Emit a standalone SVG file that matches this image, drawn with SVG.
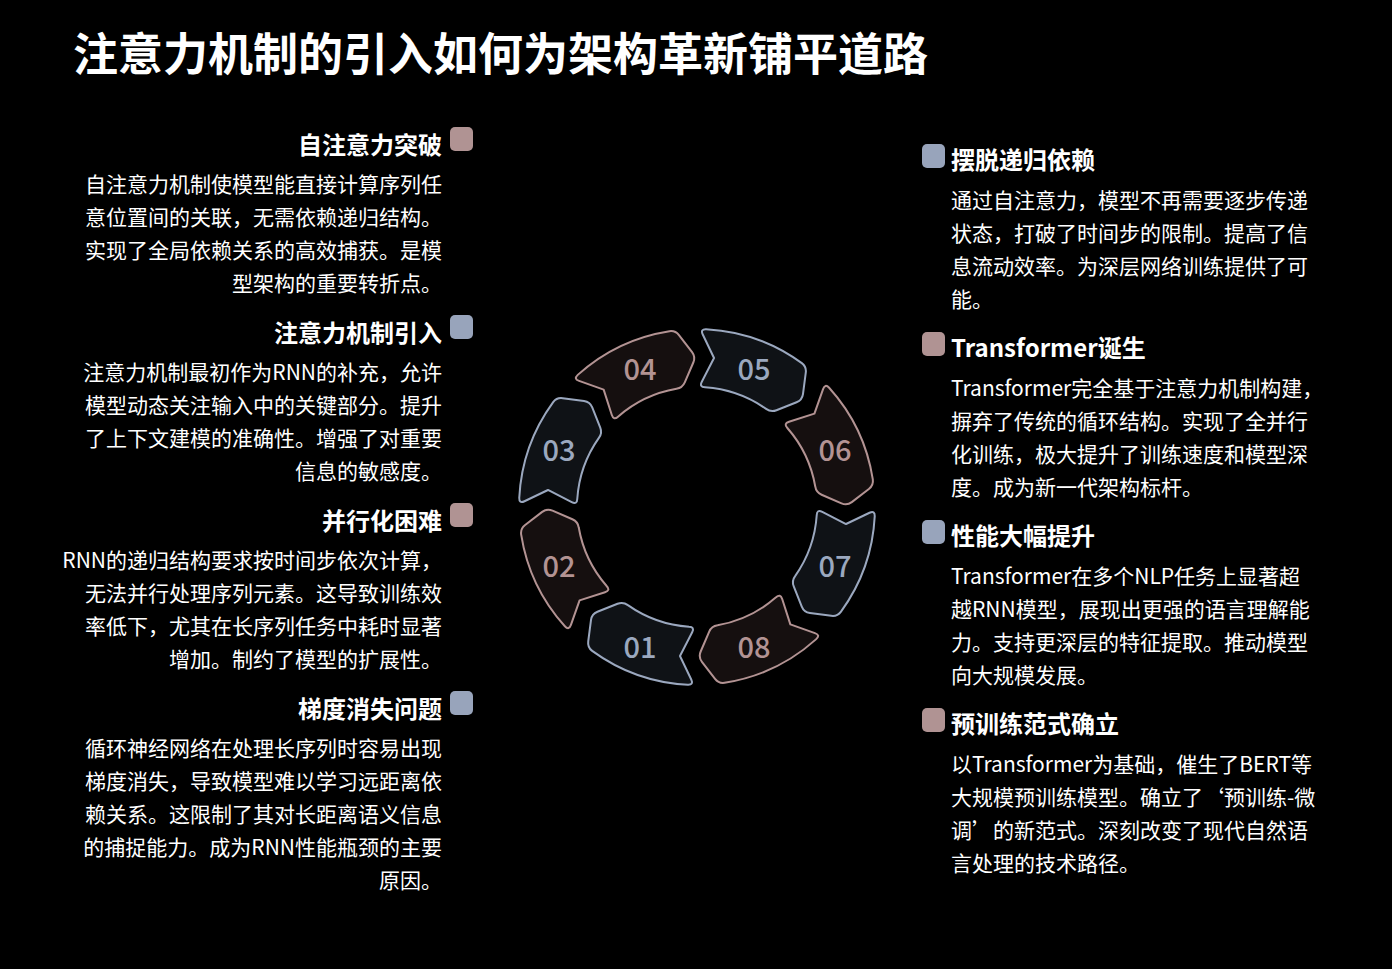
<svg xmlns="http://www.w3.org/2000/svg" xmlns:xlink="http://www.w3.org/1999/xlink" width="1392" height="969" viewBox="0 0 1392 969">
<style>
text{font-family:"Noto Sans CJK SC","Noto Sans",sans-serif;fill:#ffffff}
.title{font-size:45px;font-weight:700}
.h{font-size:24px;font-weight:700}
.b{font-size:21px}
.l{text-anchor:end}
.num{font-size:29px;font-weight:500;text-anchor:middle}
.segB{fill:#0f1216;stroke:#9ba8bf;stroke-width:2;stroke-linejoin:round}
.segP{fill:#150f0f;stroke:#b39393;stroke-width:2;stroke-linejoin:round}
.nB{fill:#9ba8bf}
.nP{fill:#b39393}
.sqB{fill:#98a4bb}
.sqP{fill:#b09393}
</style>
<defs>
<path id="seg" d="M 161.6,-60.7 Q 165.6,-65.2 167.7,-59.6 A 178 178 0 0 1 173.0,41.8 Q 171.5,47.6 165.7,49.1 L 144.9,54.7 Q 139.1,56.2 134.9,51.9 L 119.8,36.4 Q 115.6,32.1 117.1,26.3 A 120 120 0 0 0 113.7,-38.4 Q 111.6,-44.0 117.6,-43.5 L 144.2,-41.3 Z"/>
</defs>
<rect x="0" y="0" width="1392" height="969" fill="#000000"/>
<text class="title" x="73" y="71">注意力机制的引入如何为架构革新铺平道路</text>

<g id="connectors"></g>

<g id="ring">
<g id="seg01"><use xlink:href="#seg" href="#seg" class="segB" transform="translate(697,507) rotate(112.5)"/><text class="num nB" x="640" y="658">01</text></g>
<g id="seg02"><use xlink:href="#seg" href="#seg" class="segP" transform="translate(697,507) rotate(157.5)"/><text class="num nP" x="559" y="577">02</text></g>
<g id="seg03"><use xlink:href="#seg" href="#seg" class="segB" transform="translate(697,507) rotate(202.5)"/><text class="num nB" x="559" y="461">03</text></g>
<g id="seg04"><use xlink:href="#seg" href="#seg" class="segP" transform="translate(697,507) rotate(247.5)"/><text class="num nP" x="640" y="380">04</text></g>
<g id="seg05"><use xlink:href="#seg" href="#seg" class="segB" transform="translate(697,507) rotate(292.5)"/><text class="num nB" x="754" y="380">05</text></g>
<g id="seg06"><use xlink:href="#seg" href="#seg" class="segP" transform="translate(697,507) rotate(337.5)"/><text class="num nP" x="835" y="461">06</text></g>
<g id="seg07"><use xlink:href="#seg" href="#seg" class="segB" transform="translate(697,507) rotate(22.5)"/><text class="num nB" x="835" y="577">07</text></g>
<g id="seg08"><use xlink:href="#seg" href="#seg" class="segP" transform="translate(697,507) rotate(67.5)"/><text class="num nP" x="754" y="658">08</text></g>
</g>

<g id="left1">
<rect class="sqP" x="450" y="127" width="23" height="24" rx="5"/>
<text class="h l" x="442" y="154">自注意力突破</text>
<text class="b l" x="442" y="192">自注意力机制使模型能直接计算序列任</text>
<text class="b l" x="442" y="225">意位置间的关联，无需依赖递归结构。</text>
<text class="b l" x="442" y="258">实现了全局依赖关系的高效捕获。是模</text>
<text class="b l" x="442" y="291">型架构的重要转折点。</text>
</g>
<g id="left2">
<rect class="sqB" x="450" y="315" width="23" height="24" rx="5"/>
<text class="h l" x="442" y="342">注意力机制引入</text>
<text class="b l" x="442" y="380">注意力机制最初作为RNN的补充，允许</text>
<text class="b l" x="442" y="413">模型动态关注输入中的关键部分。提升</text>
<text class="b l" x="442" y="446">了上下文建模的准确性。增强了对重要</text>
<text class="b l" x="442" y="479">信息的敏感度。</text>
</g>
<g id="left3">
<rect class="sqP" x="450" y="503" width="23" height="24" rx="5"/>
<text class="h l" x="442" y="530">并行化困难</text>
<text class="b l" x="442" y="568">RNN的递归结构要求按时间步依次计算，</text>
<text class="b l" x="442" y="601">无法并行处理序列元素。这导致训练效</text>
<text class="b l" x="442" y="634">率低下，尤其在长序列任务中耗时显著</text>
<text class="b l" x="442" y="667">增加。制约了模型的扩展性。</text>
</g>
<g id="left4">
<rect class="sqB" x="450" y="691" width="23" height="24" rx="5"/>
<text class="h l" x="442" y="718">梯度消失问题</text>
<text class="b l" x="442" y="756">循环神经网络在处理长序列时容易出现</text>
<text class="b l" x="442" y="789">梯度消失，导致模型难以学习远距离依</text>
<text class="b l" x="442" y="822">赖关系。这限制了其对长距离语义信息</text>
<text class="b l" x="442" y="855">的捕捉能力。成为RNN性能瓶颈的主要</text>
<text class="b l" x="442" y="888">原因。</text>
</g>

<g id="right1">
<rect class="sqB" x="922" y="144" width="23" height="24" rx="5"/>
<text class="h" x="951" y="169">摆脱递归依赖</text>
<text class="b" x="951" y="208">通过自注意力，模型不再需要逐步传递</text>
<text class="b" x="951" y="241">状态，打破了时间步的限制。提高了信</text>
<text class="b" x="951" y="274">息流动效率。为深层网络训练提供了可</text>
<text class="b" x="951" y="307">能。</text>
</g>
<g id="right2">
<rect class="sqP" x="922" y="332" width="23" height="24" rx="5"/>
<text class="h" x="951" y="357">Transformer诞生</text>
<text class="b" x="951" y="396">Transformer完全基于注意力机制构建，</text>
<text class="b" x="951" y="429">摒弃了传统的循环结构。实现了全并行</text>
<text class="b" x="951" y="462">化训练，极大提升了训练速度和模型深</text>
<text class="b" x="951" y="495">度。成为新一代架构标杆。</text>
</g>
<g id="right3">
<rect class="sqB" x="922" y="520" width="23" height="24" rx="5"/>
<text class="h" x="951" y="545">性能大幅提升</text>
<text class="b" x="951" y="584">Transformer在多个NLP任务上显著超</text>
<text class="b" x="951" y="617">越RNN模型，展现出更强的语言理解能</text>
<text class="b" x="951" y="650">力。支持更深层的特征提取。推动模型</text>
<text class="b" x="951" y="683">向大规模发展。</text>
</g>
<g id="right4">
<rect class="sqP" x="922" y="708" width="23" height="24" rx="5"/>
<text class="h" x="951" y="733">预训练范式确立</text>
<text class="b" x="951" y="772">以Transformer为基础，催生了BERT等</text>
<text class="b" x="951" y="805">大规模预训练模型。确立了‘预训练-微</text>
<text class="b" x="951" y="838">调’的新范式。深刻改变了现代自然语</text>
<text class="b" x="951" y="871">言处理的技术路径。</text>
</g>
</svg>
